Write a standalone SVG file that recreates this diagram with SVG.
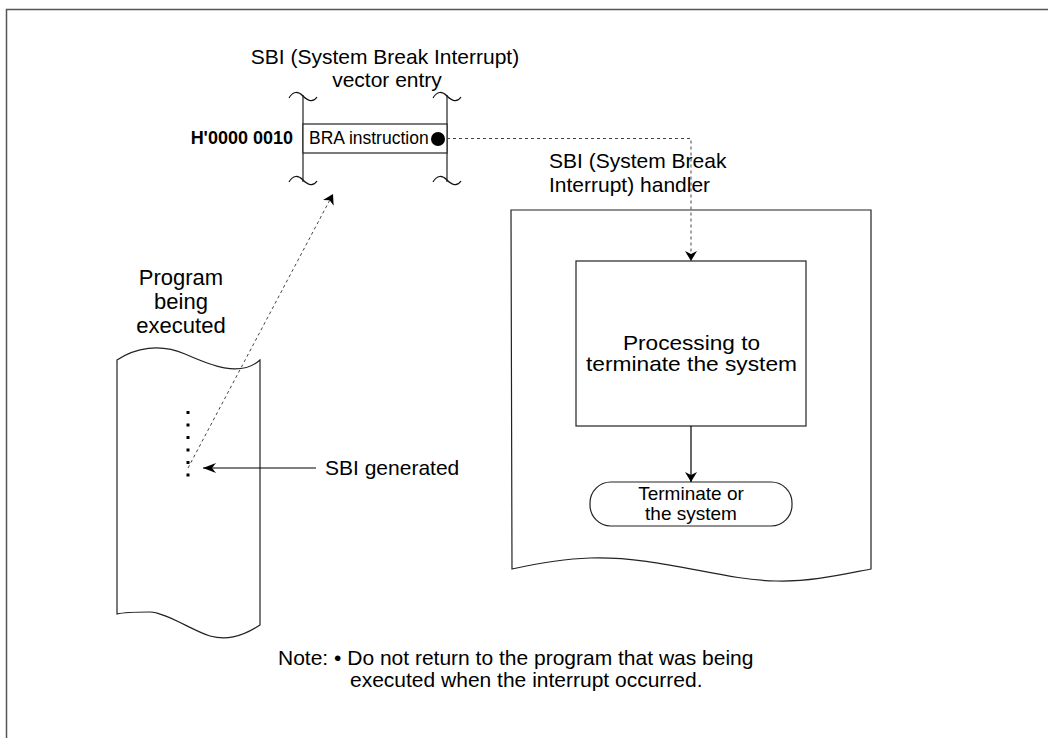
<svg xmlns="http://www.w3.org/2000/svg" width="1048" height="738" viewBox="0 0 1048 738">
<style>
text{font-family:"Liberation Sans",Arial,sans-serif;font-size:21px;fill:#000}
.ln{fill:none;stroke:#222;stroke-width:1.2}
.dot{fill:none;stroke:#444;stroke-width:1;stroke-dasharray:3,3}
.sq{fill:none;stroke:#111;stroke-width:1.2}
</style>
<defs>
<marker id="ah" viewBox="0 0 10 12" refX="10" refY="6" markerWidth="10" markerHeight="12" markerUnits="userSpaceOnUse" orient="auto">
<path d="M0,0 L10,6 L0,12 L3,6 Z" fill="#000"/>
</marker>
<marker id="ahb" viewBox="0 0 13 10" refX="13" refY="5" markerWidth="13" markerHeight="10" markerUnits="userSpaceOnUse" orient="auto">
<path d="M0,0 L13,5 L0,10 L4,5 Z" fill="#000"/>
</marker>
</defs>
<rect width="1048" height="738" fill="#fff"/>
<path d="M6.5,738 V9.5 H1048" fill="none" stroke="#555" stroke-width="1.5"/>

<g id="vector-entry">
<text x="385" y="64" text-anchor="middle">SBI (System Break Interrupt)</text>
<text x="387" y="87" text-anchor="middle">vector entry</text>
<line x1="303" y1="95" x2="303" y2="182" class="ln"/>
<line x1="447" y1="95" x2="447" y2="182" class="ln" stroke="#888"/>
<path d="M289,98 C293,91 298,91 303,96 S313,103 317,97" class="sq"/>
<path d="M433,98 C437,91 442,91 447,96 S457,103 461,97" class="sq"/>
<path d="M289,182 C293,175 298,175 303,180 S313,187 317,181" class="sq"/>
<path d="M433,182 C437,175 442,175 447,180 S457,187 461,181" class="sq"/>
<rect x="303" y="124" width="144" height="29" fill="#fff" stroke="#222" stroke-width="1.2"/>
<text x="309" y="144" style="font-size:17.5px">BRA instruction</text>
<circle cx="438" cy="139" r="7" fill="#000"/>
<text x="293" y="144" text-anchor="end" style="font-weight:bold;font-size:18px">H'0000 0010</text>
</g>

<g id="program">
<text x="181" y="285" text-anchor="middle" style="font-size:22px">Program</text>
<text x="181" y="309" text-anchor="middle" style="font-size:22px">being</text>
<text x="181" y="333" text-anchor="middle" style="font-size:22px">executed</text>
<path d="M117,360 C135,348 160,343 185,354 S240,378 260,360 V625 C240,638 225,640 210,636 S165,612 150,612 S125,612 117,614 Z" fill="#fff" stroke="#222" stroke-width="1.2"/>
<rect x="186.5" y="411" width="3" height="3" fill="#000"/>
<rect x="186.5" y="423.5" width="3" height="3" fill="#000"/>
<rect x="186.5" y="436" width="3" height="3" fill="#000"/>
<rect x="186.5" y="448.5" width="3" height="3" fill="#000"/>
<rect x="186.5" y="461" width="3" height="3" fill="#000"/>
<rect x="186.5" y="473.5" width="3" height="3" fill="#000"/>
</g>

<g id="sbi-generated">
<text x="325" y="475">SBI generated</text>
</g>

<g id="handler">
<text x="549" y="168">SBI (System Break</text>
<text x="549" y="192">Interrupt) handler</text>
<path d="M511,210 H871 V569 C840,575 810,582 776,581 C720,580 660,556 590,558 C560,559 535,564 512,569 Z" fill="#fff" stroke="#222" stroke-width="1.2"/>
</g>

<g id="processing">
<rect x="576" y="261" width="230" height="165" fill="#fff" stroke="#222" stroke-width="1.2"/>
<text x="623" y="350" textLength="137" lengthAdjust="spacingAndGlyphs">Processing to</text>
<text x="586" y="371" textLength="211" lengthAdjust="spacingAndGlyphs">terminate the system</text>
</g>

<g id="terminate">
<rect x="590" y="482" width="202" height="44" rx="21" ry="21" fill="#fff" stroke="#222" stroke-width="1.2"/>
<text x="691" y="500" text-anchor="middle" style="font-size:19px">Terminate or</text>
<text x="691" y="520" text-anchor="middle" style="font-size:19px">the system</text>
</g>

<g id="note">
<text x="278" y="665">Note: • Do not return to the program that was being</text>
<text x="350" y="687">executed when the interrupt occurred.</text>
</g>

<g id="connectors">
<polyline points="447,138.5 691,138.5 691,261" class="dot" marker-end="url(#ah)"/>
<line x1="188" y1="468" x2="333" y2="194" class="dot" marker-end="url(#ah)"/>
<line x1="316" y1="468" x2="203" y2="468" stroke="#000" stroke-width="1.2" marker-end="url(#ahb)"/>
<line x1="691" y1="426" x2="691" y2="482" stroke="#000" stroke-width="1.2" marker-end="url(#ah)"/>
</g>
</svg>
